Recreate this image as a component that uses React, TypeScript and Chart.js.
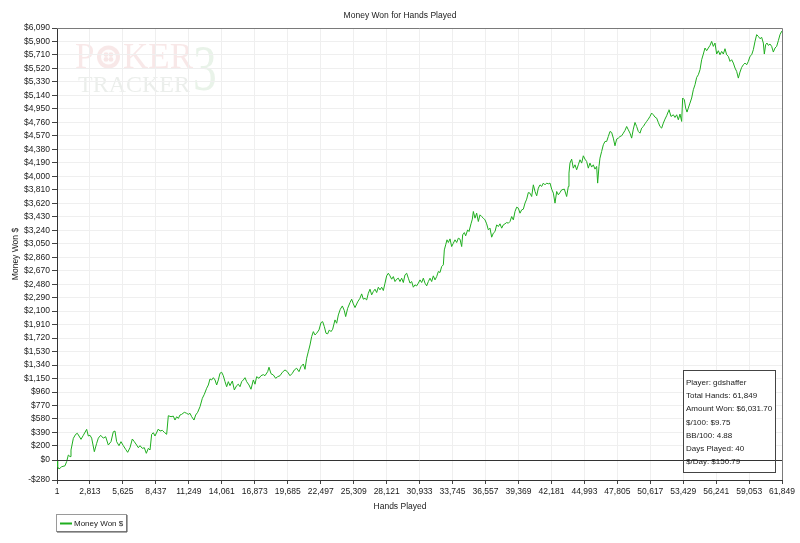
import { useEffect, useRef } from 'react';
import { Chart, registerables } from 'chart.js';

Chart.register(...registerables);

const TITLE = 'Money Won for Hands Played';
const X_TITLE = 'Hands Played';
const Y_TITLE = 'Money Won $';
const SERIES_LABEL = 'Money Won $';

const xTicks = [1, 2813, 5625, 8437, 11249, 14061, 16873, 19685, 22497, 25309, 28121, 30933, 33745, 36557, 39369, 42181, 44993, 47805, 50617, 53429, 56241, 59053, 61849];
const yTicks = [-280, 0, 200, 390, 580, 770, 960, 1150, 1340, 1530, 1720, 1910, 2100, 2290, 2480, 2670, 2860, 3050, 3240, 3430, 3620, 3810, 4000, 4190, 4380, 4570, 4760, 4950, 5140, 5330, 5520, 5710, 5900, 6090];

const hands = [
  1, 58, 172, 399, 683, 826, 968, 1110, 1195, 1394, 1594, 1735, 1878, 2048, 2247, 2532, 2674, 2816, 2958, 3186,
  3385, 3527, 3726, 3953, 4152, 4379, 4607, 4806, 4948, 5090, 5290, 5460, 5659, 5858, 6029, 6228, 6427, 6597, 6796, 6939,
  7081, 7280, 7450, 7621, 7792, 7935, 8077, 8219, 8361, 8645, 8788, 8987, 9157, 9356, 9498, 9726, 9925, 10067, 10210, 10352,
  10494, 10636, 10863, 11063, 11205, 11347, 11489, 11688, 11830, 12001, 12200, 12399, 12570, 12769, 12911, 13053, 13195, 13337, 13480, 13622,
  13764, 13906, 14048, 14190, 14333, 14475, 14617, 14759, 14958, 15129, 15328, 15470, 15612, 15754, 15896, 16039, 16181, 16380, 16550, 16749,
  16891, 17033, 17232, 17403, 17602, 17744, 17973, 18086, 18257, 18456, 18655, 18826, 19025, 19224, 19451, 19650, 19878, 20077, 20247, 20446,
  20645, 20816, 21015, 21157, 21299, 21441, 21584, 21726, 21868, 22010, 22152, 22351, 22522, 22664, 22806, 22949, 23091, 23233, 23375, 23517,
  23716, 23858, 24001, 24171, 24342, 24512, 24626, 24797, 24996, 25138, 25280, 25423, 25650, 25849, 25991, 26133, 26275, 26418, 26560, 26702,
  26844, 26986, 27129, 27271, 27413, 27555, 27697, 27840, 27982, 28124, 28266, 28408, 28550, 28693, 28835, 28977, 29119, 29261, 29404, 29546,
  29688, 29830, 29972, 30115, 30257, 30399, 30541, 30683, 30826, 30968, 31110, 31252, 31394, 31537, 31679, 31821, 31963, 32105, 32248, 32390,
  32532, 32674, 32816, 32959, 33044, 33158, 33271, 33385, 33527, 33669, 33812, 33954, 34096, 34238, 34381, 34523, 34608, 34750, 34863, 35034,
  35148, 35318, 35432, 35517, 35660, 35802, 35944, 36086, 36228, 36371, 36513, 36655, 36797, 36939, 37082, 37224, 37366, 37508, 37650, 37793,
  37935, 38077, 38219, 38361, 38504, 38646, 38788, 38930, 39072, 39215, 39357, 39499, 39641, 39783, 39926, 40068, 40210, 40352, 40494, 40637,
  40779, 40921, 41063, 41205, 41348, 41490, 41632, 41774, 41916, 42059, 42201, 42343, 42485, 42627, 42770, 42912, 43054, 43281, 43478, 43620,
  43677, 43762, 43904, 44046, 44189, 44331, 44473, 44615, 44757, 44900, 45042, 45184, 45326, 45468, 45611, 45753, 45895, 46037, 46122, 46236,
  46321, 46464, 46606, 46748, 46890, 47032, 47175, 47317, 47459, 47601, 47743, 47886, 48028, 48170, 48312, 48454, 48597, 48739, 48881, 49023,
  49165, 49308, 49450, 49592, 49734, 49876, 50019, 50161, 50303, 50445, 50587, 50729, 50872, 51014, 51156, 51298, 51440, 51583, 51725, 51867,
  52009, 52151, 52209, 52380, 52579, 52721, 52863, 53006, 53148, 53290, 53375, 53517, 53631, 53745, 53858, 54000, 54143, 54285, 54427, 54569,
  54711, 54854, 54996, 55138, 55280, 55422, 55564, 55707, 55849, 55991, 56133, 56275, 56418, 56560, 56702, 56844, 56986, 57129, 57271, 57413,
  57555, 57697, 57840, 57982, 58124, 58266, 58408, 58551, 58693, 58835, 58977, 59119, 59262, 59404, 59546, 59688, 59830, 59973, 60115, 60257,
  60342, 60456, 60569, 60683, 60825, 60967, 61110, 61252, 61394, 61536, 61678, 61820, 61849,
];

const moneyWon = [
  0, -93, -125, -93, -80, -20, 72, 50, 142, 307, 364, 378, 340, 293, 350, 434, 340, 350, 310, 119,
  237, 310, 350, 310, 330, 213, 260, 400, 410, 260, 204, 260, 204, 152, 110, 175, 298, 260, 213, 175,
  204, 166, 175, 96, 166, 143, 364, 386, 340, 438, 410, 420, 392, 364, 626, 612, 620, 565, 612, 588,
  636, 645, 674, 660, 645, 660, 612, 565, 636, 674, 753, 871, 928, 1013, 1059, 1144, 1130, 1162, 1130, 1059,
  1130, 1224, 1238, 1190, 1106, 1035, 1106, 1050, 1115, 989, 1050, 1070, 1035, 1106, 1130, 1162, 1106, 1059, 999, 1130,
  1070, 1176, 1153, 1190, 1205, 1190, 1247, 1309, 1218, 1200, 1153, 1176, 1190, 1238, 1271, 1247, 1190, 1224, 1271, 1295,
  1247, 1318, 1355, 1280, 1436, 1529, 1623, 1741, 1811, 1764, 1788, 1835, 1938, 1952, 1882, 1788, 1780, 1835, 1811, 1845,
  1976, 1929, 2046, 2127, 2173, 2107, 2023, 2140, 2220, 2268, 2202, 2150, 2230, 2282, 2343, 2268, 2280, 2258, 2352, 2409,
  2329, 2376, 2409, 2362, 2437, 2400, 2437, 2390, 2494, 2597, 2634, 2597, 2550, 2587, 2517, 2550, 2564, 2517, 2564, 2503,
  2611, 2634, 2564, 2494, 2517, 2437, 2470, 2456, 2494, 2540, 2503, 2564, 2494, 2456, 2517, 2564, 2517, 2597, 2540, 2587,
  2658, 2644, 2728, 2752, 2963, 3034, 3105, 3067, 3118, 3010, 3057, 3105, 3067, 3128, 3114, 3010, 3175, 3207, 3161, 3245,
  3222, 3330, 3396, 3504, 3410, 3481, 3363, 3457, 3433, 3410, 3386, 3330, 3245, 3269, 3142, 3199, 3221, 3316, 3292, 3330,
  3269, 3316, 3330, 3349, 3339, 3363, 3433, 3386, 3504, 3565, 3551, 3480, 3527, 3537, 3622, 3678, 3771, 3762, 3715, 3880,
  3786, 3725, 3833, 3880, 3857, 3904, 3880, 3904, 3894, 3904, 3819, 3763, 3622, 3786, 3739, 3772, 3809, 3819, 3715, 3856,
  4045, 4186, 4242, 4115, 4162, 4092, 4162, 4233, 4186, 4289, 4242, 4209, 4115, 4186, 4130, 4162, 4101, 4139, 3904, 4139,
  4256, 4350, 4444, 4491, 4491, 4561, 4632, 4618, 4538, 4430, 4524, 4538, 4561, 4571, 4608, 4646, 4702, 4655, 4608, 4538,
  4665, 4759, 4702, 4632, 4608, 4679, 4702, 4740, 4773, 4806, 4844, 4891, 4867, 4834, 4820, 4759, 4702, 4679, 4749, 4806,
  4853, 4914, 4938, 4843, 4867, 4829, 4867, 4797, 4877, 4773, 5103, 5079, 4962, 4905, 4962, 5032, 5103, 5220, 5290, 5393,
  5431, 5502, 5643, 5723, 5808, 5770, 5808, 5845, 5901, 5831, 5878, 5723, 5770, 5713, 5760, 5723, 5798, 5713, 5690, 5619,
  5643, 5596, 5526, 5478, 5384, 5469, 5535, 5572, 5596, 5572, 5619, 5690, 5713, 5784, 5901, 5996, 5972, 5939, 5958, 5878,
  5723, 5855, 5878, 5845, 5864, 5831, 5751, 5808, 5831, 5911, 5996, 6043, 6031.7,
];

const infoLines = [
  'Player: gdshaffer',
  'Total Hands: 61,849',
  'Amount Won: $6,031.70',
  '$/100: $9.75',
  'BB/100: 4.88',
  'Days Played: 40',
  '$/Day: $150.79',
];

const FONT_FAMILY = "'Liberation Sans', Arial, sans-serif";
const FONT_SIZE = 8.5;
const SMALL_FONT_SIZE = 8;
const LINE_GREEN = '#1fae1f';
const TEXT = '#1a1a1a';

const fmtMoney = (v: number) =>
  (v < 0 ? '-$' : '$') + Math.abs(v).toLocaleString('en-US');

const decorPlugin = {
  id: 'decor',
  beforeDraw(chart: any) {
    const ctx = chart.ctx as CanvasRenderingContext2D;
    ctx.save();
    // watermark
    ctx.textBaseline = 'alphabetic';
    ctx.textAlign = 'left';
    ctx.font = "35px 'Liberation Serif', 'DejaVu Serif', serif";
    ctx.fillStyle = 'rgba(205, 90, 90, 0.14)';
    ctx.fillText('P', 75, 68);
    ctx.fillText('KER', 123, 68);
    ctx.beginPath();
    ctx.arc(108.5, 57, 11.5, 0, Math.PI * 2);
    ctx.fill();
    ctx.fillStyle = 'rgba(255,255,255,0.9)';
    ctx.beginPath();
    ctx.arc(108.5, 57, 7.5, 0, Math.PI * 2);
    ctx.fill();
    ctx.fillStyle = 'rgba(205, 90, 90, 0.14)';
    for (let i = 0; i < 4; i++) {
      const a = (Math.PI / 2) * i + Math.PI / 4;
      ctx.beginPath();
      ctx.arc(108.5 + Math.cos(a) * 3.5, 57 + Math.sin(a) * 3.5, 2.4, 0, Math.PI * 2);
      ctx.fill();
    }
    ctx.font = "24px 'Liberation Serif', 'DejaVu Serif', serif";
    ctx.fillStyle = 'rgba(120, 140, 120, 0.15)';
    ctx.fillText('TRACKER', 78, 92);
    ctx.save();
    ctx.translate(193, 90);
    ctx.scale(0.72, 1);
    ctx.font = "66px 'Liberation Serif', 'DejaVu Serif', serif";
    ctx.fillStyle = 'rgba(70, 160, 70, 0.12)';
    ctx.fillText('3', 0, 0);
    ctx.restore();

    // title and axis titles
    ctx.fillStyle = TEXT;
    ctx.font = `${FONT_SIZE}px ${FONT_FAMILY}`;
    ctx.textAlign = 'center';
    ctx.textBaseline = 'middle';
    ctx.fillText(TITLE, 400, 16);
    ctx.fillText(X_TITLE, 400, 507);
    ctx.save();
    ctx.translate(15.5, 254);
    ctx.rotate(-Math.PI / 2);
    ctx.fillText(Y_TITLE, 0, 0);
    ctx.restore();

    // legend
    ctx.fillStyle = '#ffffff';
    ctx.fillRect(56.5, 514.5, 70, 17);
    ctx.strokeStyle = '#9a9a9a';
    ctx.lineWidth = 1;
    ctx.strokeRect(56.5, 514.5, 70, 17);
    ctx.strokeStyle = '#555555';
    ctx.beginPath();
    ctx.moveTo(57, 532);
    ctx.lineTo(127, 532);
    ctx.lineTo(127, 515);
    ctx.stroke();
    ctx.strokeStyle = LINE_GREEN;
    ctx.lineWidth = 2;
    ctx.beginPath();
    ctx.moveTo(60, 523.5);
    ctx.lineTo(72, 523.5);
    ctx.stroke();
    ctx.fillStyle = TEXT;
    ctx.textAlign = 'left';
    ctx.font = `${SMALL_FONT_SIZE}px ${FONT_FAMILY}`;
    ctx.fillText(SERIES_LABEL, 74, 523.5);
    ctx.restore();
  },
  afterDatasetsDraw(chart: any) {
    const ctx = chart.ctx as CanvasRenderingContext2D;
    const { left, right, top, bottom } = chart.chartArea;
    const yScale = chart.scales.y;
    ctx.save();
    ctx.strokeStyle = '#7a7a7a';
    ctx.lineWidth = 1;
    ctx.beginPath();
    ctx.moveTo(left, top + 0.5);
    ctx.lineTo(right + 0.5, top + 0.5);
    ctx.lineTo(right + 0.5, bottom);
    ctx.stroke();

    // info box
    const bx = 683.5, by = 370.5, bw = 92, bh = 102;
    ctx.fillStyle = '#ffffff';
    ctx.fillRect(bx, by, bw, bh);

    // zero line
    const y0 = Math.round(yScale.getPixelForValue(0)) + 0.5;
    ctx.strokeStyle = '#333333';
    ctx.beginPath();
    ctx.moveTo(left, y0);
    ctx.lineTo(right, y0);
    ctx.stroke();

    ctx.strokeStyle = '#444444';
    ctx.strokeRect(bx, by, bw, bh);
    ctx.fillStyle = TEXT;
    ctx.font = `${SMALL_FONT_SIZE}px ${FONT_FAMILY}`;
    ctx.textAlign = 'left';
    ctx.textBaseline = 'middle';
    infoLines.forEach((line, i) => {
      ctx.fillText(line, 686, 383 + i * 13.1);
    });
    ctx.restore();
  },
};

export default function App() {
  const ref = useRef<HTMLCanvasElement | null>(null);

  useEffect(() => {
    if (!ref.current) return;
    const points = hands.map((h, i) => ({ x: h, y: moneyWon[i] }));
    const font = { family: FONT_FAMILY, size: FONT_SIZE };
    const chart = new Chart(ref.current, {
      type: 'line',
      data: {
        datasets: [
          {
            label: SERIES_LABEL,
            data: points,
            borderColor: LINE_GREEN,
            borderWidth: 1,
            pointRadius: 0,
            tension: 0,
            fill: false,
          },
        ],
      },
      options: {
        responsive: false,
        animation: false,
        events: [],
        layout: { padding: { top: 28, right: 18, left: 0, bottom: 0 } },
        plugins: {
          legend: { display: false },
          title: { display: false },
          tooltip: { enabled: false },
        },
        scales: {
          x: {
            type: 'linear',
            min: 1,
            max: 61849,
            afterBuildTicks: (s: any) => {
              s.ticks = xTicks.map((v) => ({ value: v }));
            },
            afterFit: (s: any) => {
              s.height = 63;
            },
            ticks: {
              autoSkip: false,
              maxRotation: 0,
              minRotation: 0,
              padding: 3,
              color: TEXT,
              font,
              callback: (v: any) => Number(v).toLocaleString('en-US'),
            },
            grid: { color: '#efefef', tickLength: 4, tickColor: '#444444', lineWidth: 1 },
            border: { display: true, color: '#333333', width: 1 },
          },
          y: {
            type: 'linear',
            min: -280,
            max: 6090,
            afterBuildTicks: (s: any) => {
              s.ticks = yTicks.map((v) => ({ value: v }));
            },
            afterFit: (s: any) => {
              s.width = 57;
            },
            ticks: {
              autoSkip: false,
              padding: 2,
              color: TEXT,
              font,
              callback: (v: any) => fmtMoney(Number(v)),
            },
            grid: { color: '#efefef', tickLength: 5, tickColor: '#444444', lineWidth: 1 },
            border: { display: true, color: '#333333', width: 1 },
          },
        },
      },
      plugins: [decorPlugin],
    });
    return () => chart.destroy();
  }, []);

  return (
    <canvas
      ref={ref}
      width={800}
      height={543}
      style={{ position: 'absolute', left: 0, top: 0, width: 800, height: 543, background: '#ffffff' }}
    />
  );
}
